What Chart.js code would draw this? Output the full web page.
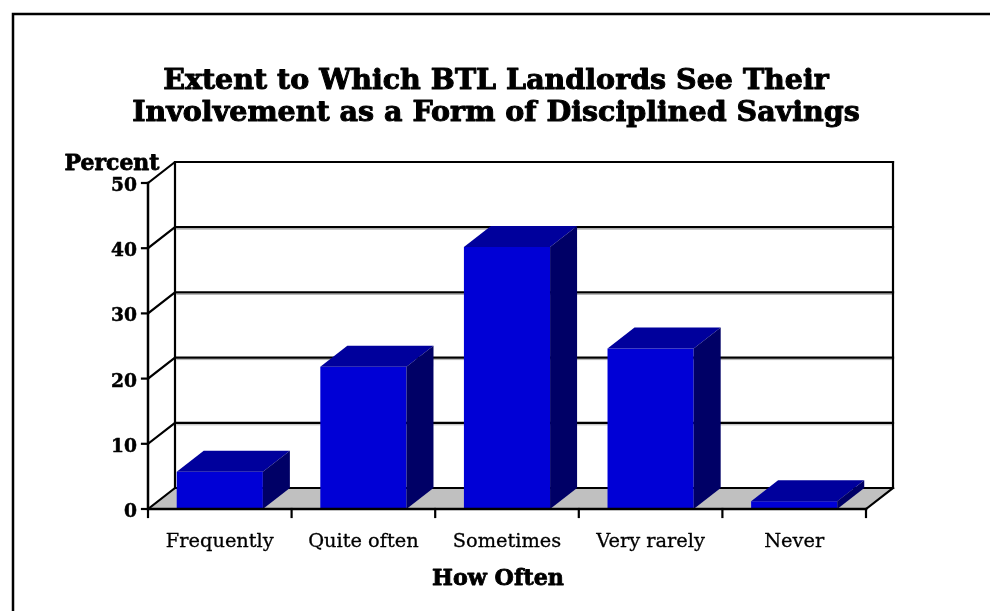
<!DOCTYPE html>
<html><head><meta charset="utf-8">
<script src="https://cdn.jsdelivr.net/npm/chart.js@4/dist/chart.umd.min.js"></script>
<style>html,body{margin:0;padding:0;background:#fff;overflow:hidden}#wrap{width:990px;height:611px;position:relative}</style>
</head><body><div id="wrap"><canvas id="c" width="990" height="611"></canvas></div>
<script>
const categories = ['Frequently', 'Quite often', 'Sometimes', 'Very rarely', 'Never'];
const percentValues = [5.7, 21.8, 40.2, 24.6, 1.2];
const yTickValues = [0, 10, 20, 30, 40, 50];
const titleLines = ['Extent to Which BTL Landlords See Their', 'Involvement as a Form of Disciplined Savings'];
const yAxisTitle = 'Percent';
const xAxisTitle = 'How Often';

const DX = 27, DY = -21;
const SERIF = '"DejaVu Serif", "Liberation Serif", serif';
const FRONT = '#0000D6', TOP = '#00009C', SIDE = '#000066';

function fit(ctx, text, weight, target) {
  ctx.font = weight + ' 100px ' + SERIF;
  return 100 * target / ctx.measureText(text).width;
}
function heavyText(ctx, text, x, y, w) {
  ctx.lineWidth = w;
  ctx.strokeStyle = '#000';
  ctx.lineJoin = 'round';
  ctx.strokeText(text, x, y);
  ctx.fillText(text, x, y);
}

const threeD = {
  id: 'threeD',
  beforeDraw(chart) {
    const ctx = chart.ctx;
    ctx.save();
    ctx.fillStyle = '#fff';
    ctx.fillRect(0, 0, chart.width, chart.height);
    ctx.strokeStyle = '#000';
    ctx.lineWidth = 2.5;
    ctx.strokeRect(13, 14, 1100, 1000);
    ctx.restore();
  },
  beforeDatasetsDraw(chart) {
    const { ctx, chartArea: a, scales: { x, y } } = chart;
    const y0 = y.getPixelForValue(0);
    ctx.save();
    ctx.fillStyle = '#c0c0c0';
    ctx.beginPath();
    ctx.moveTo(a.left, y0); ctx.lineTo(a.right, y0);
    ctx.lineTo(a.right + DX, y0 + DY); ctx.lineTo(a.left + DX, y0 + DY);
    ctx.closePath(); ctx.fill();
    ctx.lineCap = 'square';
    yTickValues.forEach(v => {
      const py = y.getPixelForValue(v);
      if (v > 0 && v < 50) {
        ctx.strokeStyle = '#b0b0b0'; ctx.lineWidth = 1;
        ctx.beginPath(); ctx.moveTo(a.left + DX + 2, py + DY + 2); ctx.lineTo(a.right + DX, py + DY + 2); ctx.stroke();
      }
      ctx.strokeStyle = '#000'; ctx.lineWidth = 2.2;
      ctx.beginPath(); ctx.moveTo(a.left, py); ctx.lineTo(a.left + DX, py + DY); ctx.lineTo(a.right + DX, py + DY); ctx.stroke();
    });
    const yTop = y.getPixelForValue(yTickValues[yTickValues.length - 1]);
    ctx.beginPath(); ctx.moveTo(a.left + DX, y0 + DY); ctx.lineTo(a.left + DX, yTop + DY); ctx.stroke();
    ctx.beginPath(); ctx.moveTo(a.right + DX, y0 + DY); ctx.lineTo(a.right + DX, yTop + DY); ctx.stroke();
    ctx.beginPath(); ctx.moveTo(a.right, y0); ctx.lineTo(a.right + DX, y0 + DY); ctx.stroke();
    ctx.restore();
  },
  afterDatasetsDraw(chart) {
    const { ctx, chartArea: a, scales: { x, y } } = chart;
    const y0 = y.getPixelForValue(0);
    const yTop = y.getPixelForValue(yTickValues[yTickValues.length - 1]);
    ctx.save();
    chart.getDatasetMeta(0).data.forEach(bar => {
      const p = bar.getProps(['x', 'y', 'base', 'width'], true);
      const l = p.x - p.width / 2, r = p.x + p.width / 2;
      ctx.fillStyle = TOP;
      ctx.beginPath();
      ctx.moveTo(l, p.y); ctx.lineTo(r, p.y); ctx.lineTo(r + DX, p.y + DY); ctx.lineTo(l + DX, p.y + DY);
      ctx.closePath(); ctx.fill();
      ctx.fillStyle = SIDE;
      ctx.beginPath();
      ctx.moveTo(r, p.y); ctx.lineTo(r + DX, p.y + DY); ctx.lineTo(r + DX, p.base + DY); ctx.lineTo(r, p.base);
      ctx.closePath(); ctx.fill();
    });
    // front axes
    ctx.strokeStyle = '#000'; ctx.lineWidth = 2.5; ctx.lineCap = 'square';
    ctx.beginPath(); ctx.moveTo(a.left, yTop); ctx.lineTo(a.left, y0); ctx.lineTo(a.right, y0); ctx.stroke();
    ctx.lineWidth = 2.2;
    yTickValues.forEach(v => {
      const py = y.getPixelForValue(v);
      ctx.beginPath(); ctx.moveTo(a.left - 6, py); ctx.lineTo(a.left, py); ctx.stroke();
    });
    for (let i = 0; i <= categories.length; i++) {
      const px = x.getPixelForValue(i - 0.5);
      ctx.beginPath(); ctx.moveTo(px, y0); ctx.lineTo(px, y0 + 8); ctx.stroke();
    }
    // texts
    ctx.fillStyle = '#000';
    ctx.textAlign = 'center'; ctx.textBaseline = 'alphabetic';
    const ts = fit(ctx, titleLines[1], 'bold', 728);
    ctx.font = 'bold ' + ts + 'px ' + SERIF;
    heavyText(ctx, titleLines[0], 496, 89, 1);
    heavyText(ctx, titleLines[1], 496, 121, 1);
    const ps = fit(ctx, yAxisTitle, 'bold', 95);
    ctx.font = 'bold ' + ps + 'px ' + SERIF;
    heavyText(ctx, yAxisTitle, 112, 170, 0.8);
    const ys = fit(ctx, '50', 'bold', 26);
    ctx.font = 'bold ' + ys + 'px ' + SERIF;
    ctx.textAlign = 'right';
    yTickValues.forEach(v => {
      const py = y.getPixelForValue(v);
      heavyText(ctx, String(v), a.left - 11, py + 8, 0.5);
    });
    const xs = fit(ctx, categories[0], 'normal', 108);
    ctx.font = 'normal ' + xs + 'px ' + SERIF;
    ctx.textAlign = 'center';
    categories.forEach((c, i) => {
      heavyText(ctx, c, x.getPixelForValue(i), 547, 0.3);
    });
    const hs = fit(ctx, xAxisTitle, 'bold', 132);
    ctx.font = 'bold ' + hs + 'px ' + SERIF;
    heavyText(ctx, xAxisTitle, 498, 585, 0.8);
    ctx.restore();
  }
};

new Chart(document.getElementById('c'), {
  type: 'bar',
  data: {
    labels: categories,
    datasets: [{
      data: percentValues,
      backgroundColor: FRONT,
      borderWidth: 0,
      categoryPercentage: 1,
      barPercentage: 0.6
    }]
  },
  options: {
    responsive: false,
    devicePixelRatio: 1,
    animation: false,
    layout: { padding: { left: 148, right: 124, top: 183, bottom: 102 } },
    plugins: { legend: { display: false }, tooltip: { enabled: false }, title: { display: false } },
    scales: {
      x: { display: false },
      y: { display: false, min: 0, max: 50 }
    }
  },
  plugins: [threeD]
});
</script>
</body></html>
